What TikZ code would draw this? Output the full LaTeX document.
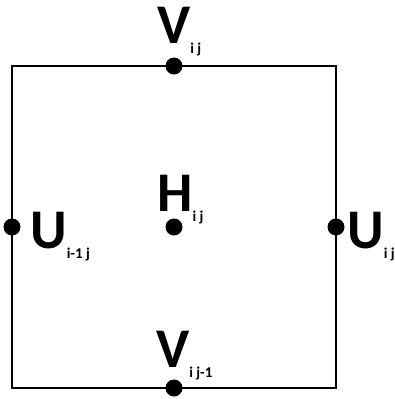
\documentclass[tikz,border=0pt]{standalone}
\usepackage{fontspec}
\setmainfont{Carlito}
\usepackage{tikz}
\newcommand{\var}[2]{{\fontsize{56}{56}\selectfont #1}\raisebox{-10pt}{\fontsize{15}{15}\selectfont #2}}

\begin{document}
\begin{tikzpicture}[x=1pt,y=-1pt,
  dot/.style={circle,fill=black,inner sep=0pt,minimum size=17pt},
  lbl/.style={anchor=base west,inner sep=0pt,font=\bfseries}]
\useasboundingbox (0,0) rectangle (394,399);
% grid cell
\draw[line width=2pt] (12,66) rectangle (336,388);
% staggered points
\node[dot] (vt) at (174,66) {};
\node[dot] (vb) at (174,388) {};
\node[dot] (ul) at (12,227) {};
\node[dot] (ur) at (336,227) {};
\node[dot] (h) at (174,227) {};
\node[lbl] (vtlbl) at (157,43) {\var{V}{i j}};
\node[lbl] (vblbl) at (156,367) {\var{V}{i j-1}};
\node[lbl] (ullbl) at (30,248) {\var{U}{i-1 j}};
\node[lbl] (urlbl) at (347,248) {\var{U}{i j}};
\node[lbl] (hlbl) at (157,211) {\var{H}{i j}};
\end{tikzpicture}
\end{document}
